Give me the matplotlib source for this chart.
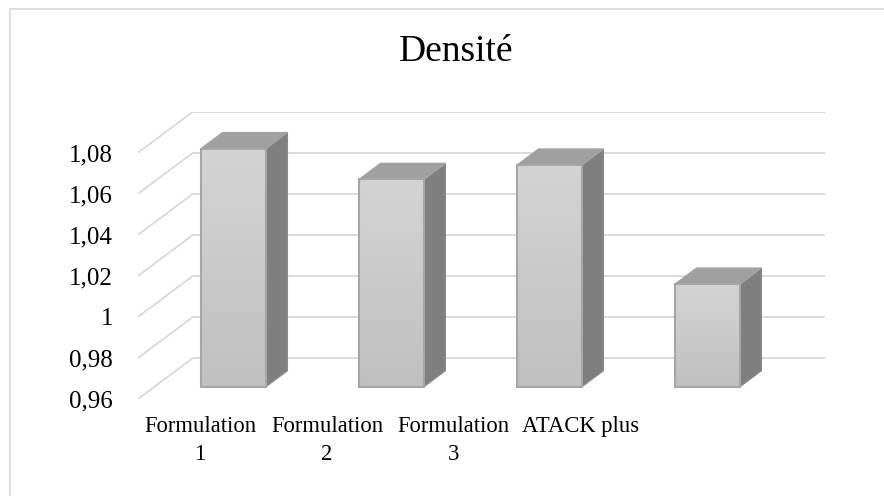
import numpy as np
import matplotlib
matplotlib.use("Agg")
import matplotlib.pyplot as plt
from matplotlib.patches import Polygon, Rectangle

plt.rcParams['font.family'] = ['Liberation Serif', 'DejaVu Serif']

# Data
categories = ["Formulation\n1", "Formulation\n2", "Formulation\n3", "ATACK plus"]
densite = [1.076, 1.061, 1.068, 1.010]
y_ticks = [0.96, 0.98, 1.00, 1.02, 1.04, 1.06, 1.08]
title = "Densité"

# Oblique 3-D projection settings (depth expressed in data units)
DX, DY = 0.348, 0.02          # shift of the back wall relative to the front plane
D0, D1 = 0.30, 0.69           # front and back depth of each column
BAR_W = 0.41
Y0 = y_ticks[0]

W, H = 884, 496
fig = plt.figure(figsize=(W / 100, H / 100), dpi=100)
fig.patch.set_facecolor("white")

# chart-area border
fig.add_artist(Rectangle((10 / W, -0.1), 1.2, 1 - 9 / H + 0.1,
                         transform=fig.transFigure, fill=False,
                         edgecolor="#d9d9d9", linewidth=1.2))

ax = fig.add_axes([138 / W, (H - 399) / H, 687 / W, 287.35 / H])
ax.set_xlim(-0.5, len(categories) - 0.5 + DX)
ax.set_ylim(Y0, y_ticks[-1] + DY)
for s in ax.spines.values():
    s.set_visible(False)
ax.patch.set_alpha(0)

grid_kw = dict(color="#d9d9d9", linewidth=1.3, zorder=1, solid_capstyle="butt")
x_left, x_right = -0.5, len(categories) - 0.5
for v in y_ticks:
    # side wall diagonal and back wall line
    ax.plot([x_left, x_left + DX], [v, v + DY], **grid_kw)
    ax.plot([x_left + DX, x_right + DX], [v + DY, v + DY], **grid_kw)


def pt(x, v, d):
    return (x + DX * d, v + DY * d)


grad = np.linspace(0, 1, 256).reshape(-1, 1)
front_cmap = matplotlib.colors.LinearSegmentedColormap.from_list(
    "front", ["#c0c0c0", "#d4d4d4"])
edge = "#a6a6a6"

for i, h in enumerate(densite):
    xl, xr = i - BAR_W / 2, i + BAR_W / 2
    side = Polygon([pt(xr, Y0, D0), pt(xr, Y0, D1), pt(xr, h, D1), pt(xr, h, D0)],
                   closed=True, facecolor="#7f7f7f", edgecolor="#8a8a8a",
                   linewidth=1.0, zorder=3)
    top = Polygon([pt(xl, h, D0), pt(xr, h, D0), pt(xr, h, D1), pt(xl, h, D1)],
                  closed=True, facecolor="#a0a0a0", edgecolor="#a4a4a4",
                  linewidth=1.0, zorder=3)
    ax.add_patch(side)
    ax.add_patch(top)
    fx0, fy0 = pt(xl, Y0, D0)
    fx1, fy1 = pt(xr, h, D0)
    ax.imshow(grad, cmap=front_cmap, origin="lower", aspect="auto",
              extent=(fx0, fx1, fy0, fy1), zorder=4, interpolation="bilinear")
    front = Rectangle((fx0, fy0), fx1 - fx0, fy1 - fy0, facecolor="none",
                      edgecolor=edge, linewidth=1.5, zorder=5)
    ax.add_patch(front)

ax.set_xlim(-0.5, len(categories) - 0.5 + DX)
ax.set_ylim(Y0, y_ticks[-1] + DY)

ax.set_yticks(y_ticks)
ax.set_yticklabels([f"{v:g}".replace(".", ",") for v in y_ticks])
label_x = [-0.107 + 0.803 * i for i in range(len(categories))]
ax.set_xticks(label_x)
ax.set_xticklabels(categories, linespacing=1.45)
ax.tick_params(axis="y", length=0, pad=18, labelsize=18, labelcolor="black")
ax.tick_params(axis="x", length=0, pad=12, labelsize=16.3, labelcolor="black")

fig.text(456 / W, 1 - 52 / H, title, ha="center", va="center", fontsize=27)

fig.savefig("out.png", dpi=100, facecolor="white")
